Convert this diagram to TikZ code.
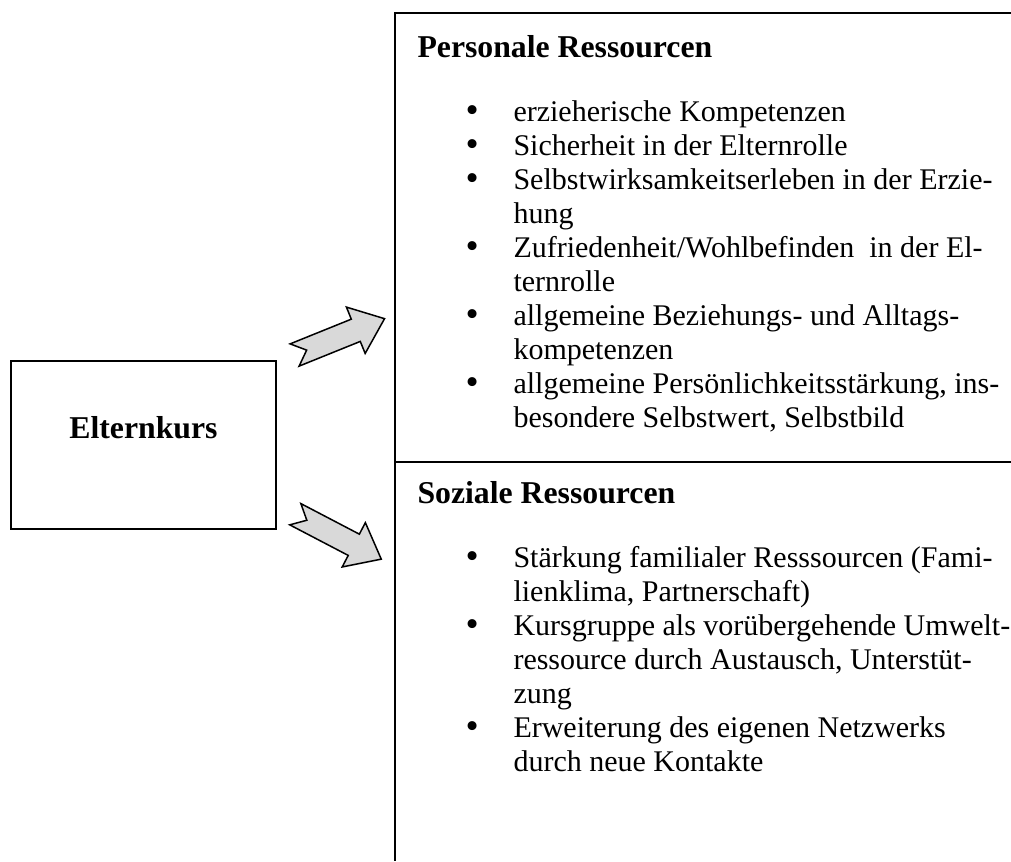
\documentclass[tikz,border=0pt]{standalone}
\usepackage{fontspec}
\setmainfont{Liberation Serif}
\usepackage{tikz}
\newcommand{\dotmark}{\smash{\raisebox{-0.6pt}{\fontsize{15}{15}\selectfont\textbullet}}}

\begin{document}
\begin{tikzpicture}[x=0.4pt,y=-0.4pt,
  frame/.style={line width=0.8pt},
  kursbox/.style={draw,line width=0.8pt,minimum width=106pt,minimum height=67.2pt,inner sep=0pt},
  headline/.style={font=\fontsize{12.7}{14.6}\selectfont\bfseries,inner sep=0pt},
  itemlist/.style={font=\fontsize{12}{13.6}\selectfont,inner sep=0pt,anchor=base west},
  pics/ressarrow/.style={code={
    \draw[fill=gray!30,line width=0.6pt,line join=miter]
      (0,12)--(66,12)--(66,25)--(97,0)--(66,-25)--(66,-12)--(0,-12)--(13,0)--cycle;}}]
  \useasboundingbox (0,0) rectangle (1011,861);
  % Rahmen rechts
  \draw[frame] (1011,13) -- (395,13) -- (395,861);
  \draw[frame] (395,462) -- (1011,462);
  % Elternkurs
  \node[kursbox] (kurs) at (143.5,445) {};
  \node[headline,anchor=base] (kurslabel) at ([yshift=2.8pt]kurs.center) {Elternkurs};
  % Pfeile
  \pic[rotate=22] at (294.6,355) {ressarrow};
  \pic[rotate=-27.6] at (295.3,514.2) {ressarrow};
  % Personale Ressourcen
  \node[headline,anchor=base west] (perstitle) at (417,57) {Personale Ressourcen};
  \node[itemlist] (perslist) at (465,121) {%
    \begin{tabular}[t]{@{}p{19.2pt}@{}l@{}}
      \dotmark & erzieherische Kompetenzen\\
      \dotmark & Sicherheit in der Elternrolle\\
      \dotmark & Selbstwirksamkeitserleben in der Erzie-\\
               & hung\\
      \dotmark & Zufriedenheit/Wohlbefinden\ \ in der El-\\
               & ternrolle\\
      \dotmark & allgemeine Beziehungs- und Alltags-\\
               & kompetenzen\\
      \dotmark & allgemeine Persönlichkeitsstärkung, ins-\\
               & besondere Selbstwert, Selbstbild
    \end{tabular}};
  % Soziale Ressourcen
  \node[headline,anchor=base west] (soztitle) at (417,503) {Soziale Ressourcen};
  \node[itemlist] (sozlist) at (465,567) {%
    \begin{tabular}[t]{@{}p{19.2pt}@{}l@{}}
      \dotmark & Stärkung familialer Resssourcen (Fami-\\
               & lienklima, Partnerschaft)\\
      \dotmark & Kursgruppe als vorübergehende Umwelt-\\
               & ressource durch Austausch, Unterstüt-\\
               & zung\\
      \dotmark & Erweiterung des eigenen Netzwerks\\
               & durch neue Kontakte
    \end{tabular}};
\end{tikzpicture}
\end{document}
